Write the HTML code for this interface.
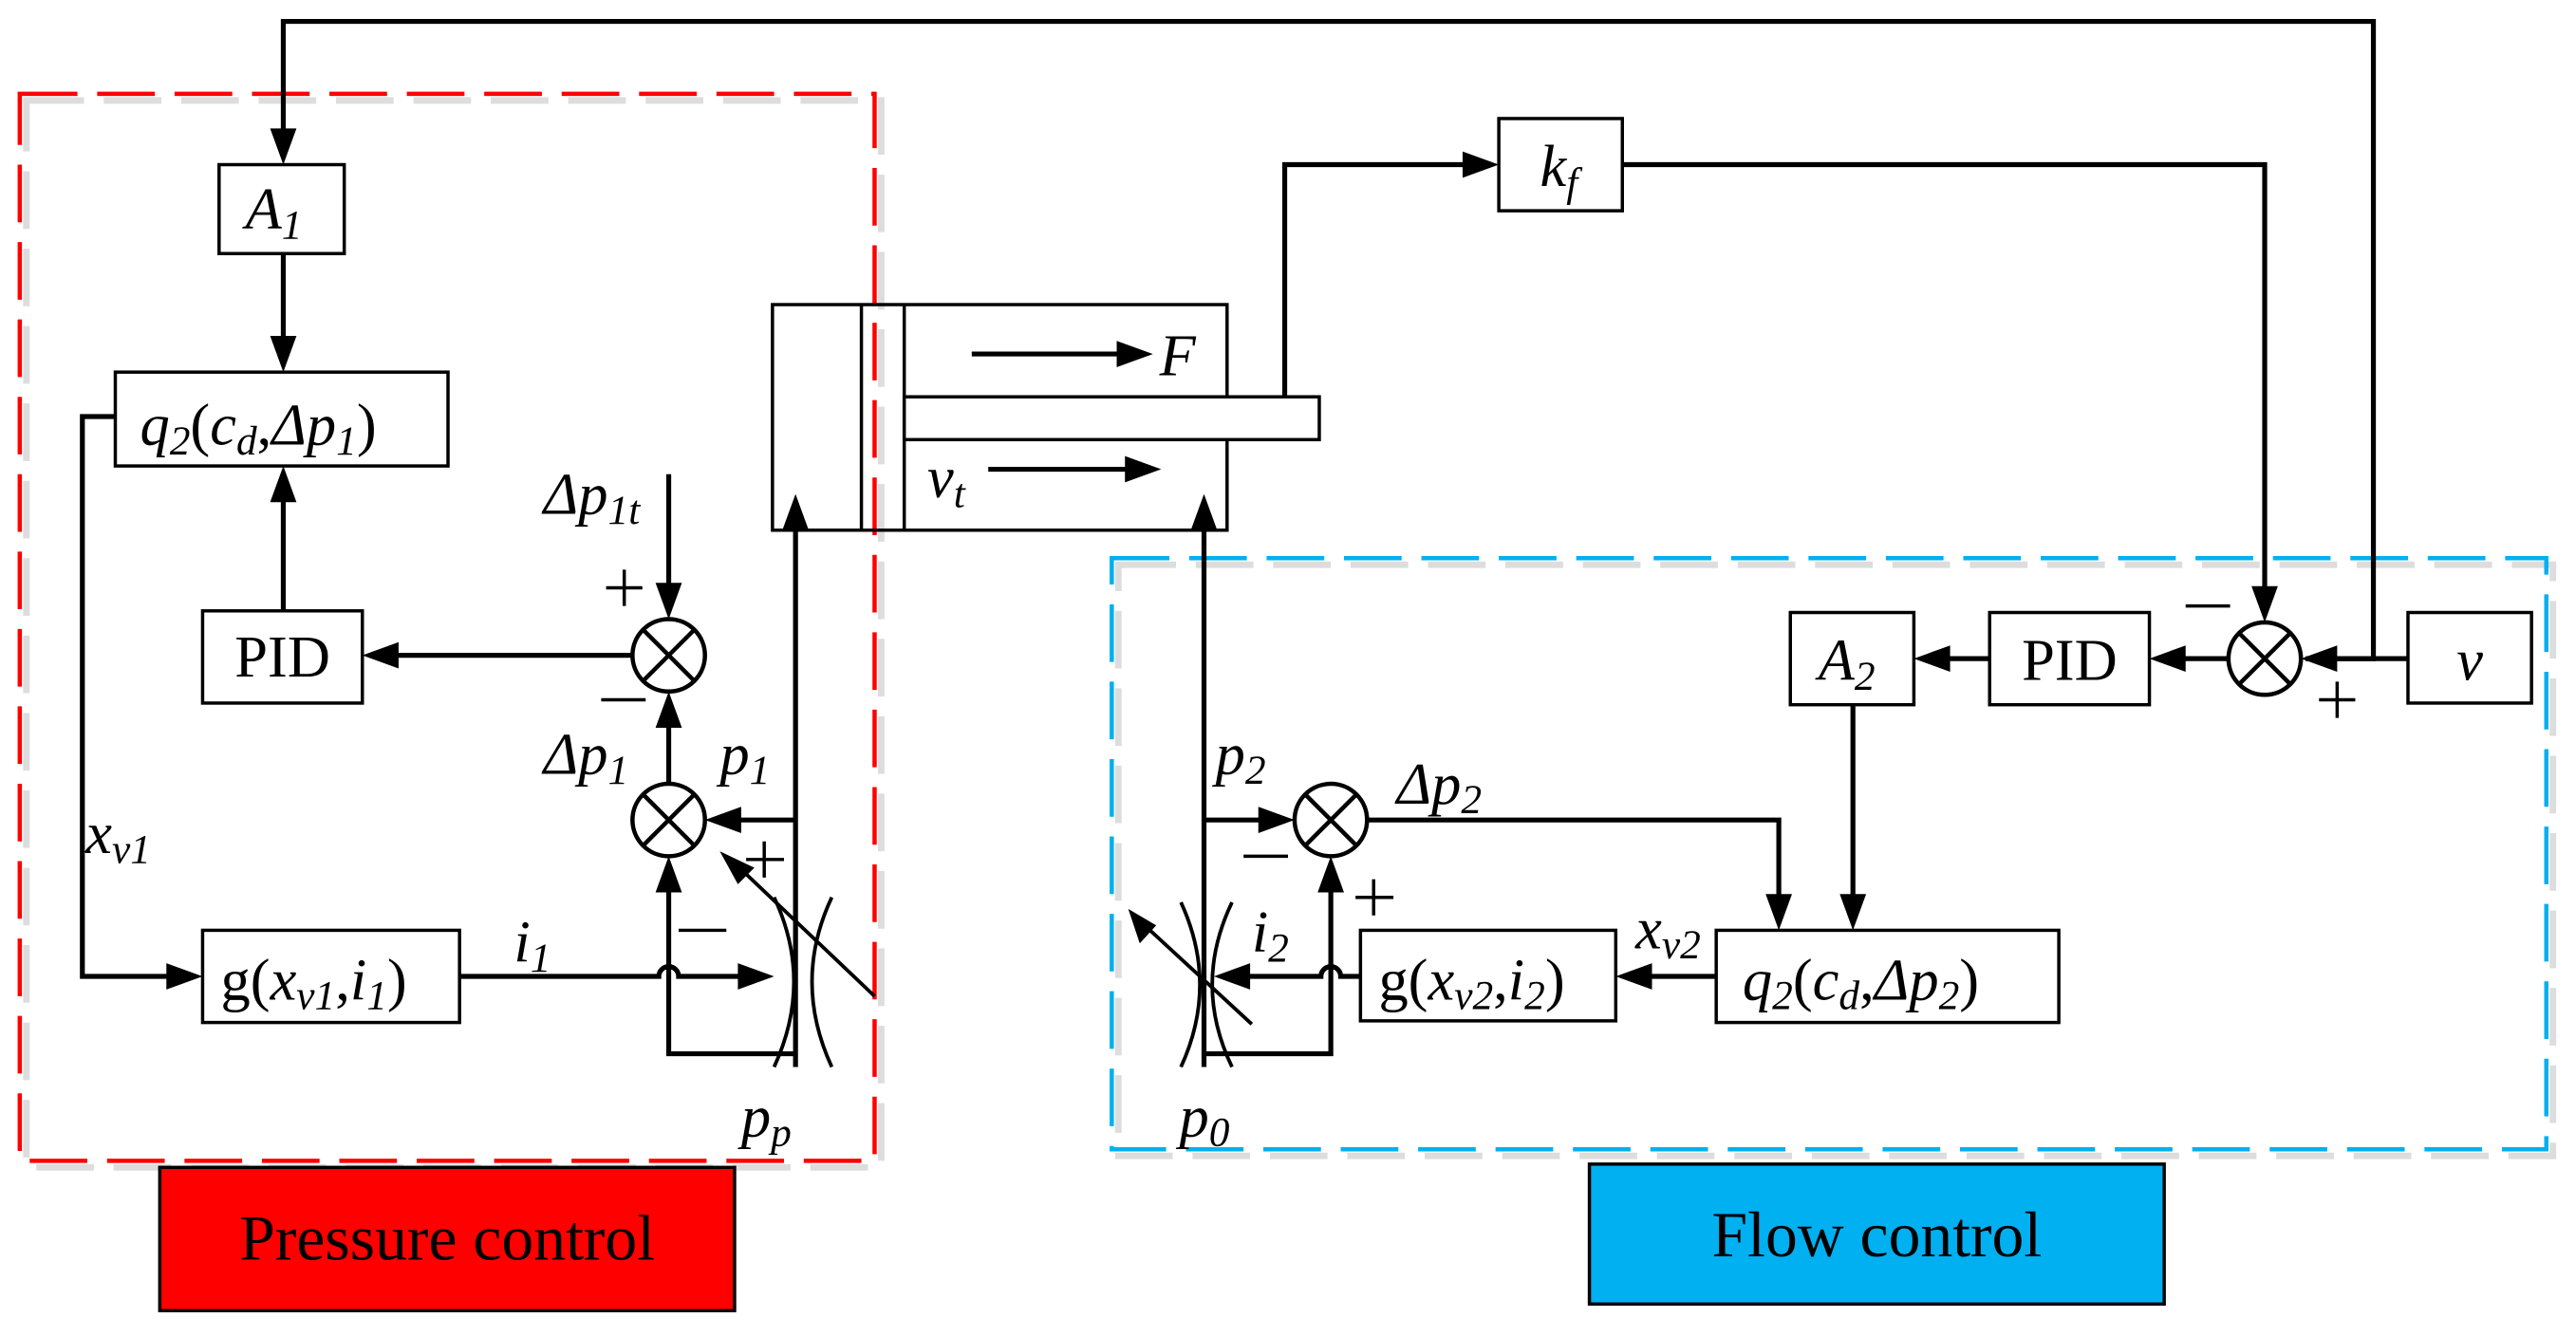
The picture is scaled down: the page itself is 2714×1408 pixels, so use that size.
<!DOCTYPE html>
<html><head><meta charset="utf-8"><style>
html,body{margin:0;padding:0;background:#fff;}
svg{display:block}
text{font-family:"Liberation Serif",serif;fill:#000}
.v{font-style:italic;font-size:36px}
.s{font-size:25px}
</style></head><body>
<svg width="2714" height="1408" viewBox="0 0 1564 811.4" xmlns="http://www.w3.org/2000/svg">
<g fill="none" stroke="#000" stroke-width="3">
<!-- shadows -->
<rect x="16" y="61" width="519" height="648" stroke="#ddd" stroke-width="4" stroke-dasharray="35 12"/>
<rect x="679" y="343" width="871" height="359" stroke="#ddd" stroke-width="4" stroke-dasharray="35 12"/>
<rect x="12" y="57" width="519" height="648" stroke="#f00" stroke-width="2.6" stroke-dasharray="35 12"/>
<rect x="675" y="339" width="871" height="359" stroke="#00b0f0" stroke-width="2.6" stroke-dasharray="35 12"/>

<!-- top loop -->
<polyline points="172,80 172,13 1441,13 1441,400 1400,400"/>
<line x1="1462" y1="400" x2="1400" y2="400"/>
<!-- boxes -->
<rect x="133" y="100" width="76" height="54" stroke-width="2"/>
<rect x="70" y="226" width="202" height="57" stroke-width="2"/>
<rect x="123" y="371" width="97" height="56" stroke-width="2"/>
<rect x="123" y="565" width="156" height="56" stroke-width="2"/>
<rect x="910" y="72" width="75" height="56" stroke-width="2"/>
<rect x="1462" y="372" width="75" height="55" stroke-width="2"/>
<rect x="1208" y="372" width="97" height="56" stroke-width="2"/>
<rect x="1087" y="372" width="75" height="56" stroke-width="2"/>
<rect x="1042" y="565" width="208" height="56" stroke-width="2"/>
<rect x="826" y="565" width="155" height="55" stroke-width="2"/>
<!-- cylinder -->
<rect x="469" y="185" width="276" height="137" stroke-width="2"/>
<line x1="523" y1="185" x2="523" y2="322" stroke-width="2"/>
<line x1="549" y1="185" x2="549" y2="322" stroke-width="2"/>
<rect x="549" y="241" width="252" height="26" stroke-width="2" fill="#fff"/>
<line x1="590" y1="215" x2="680" y2="215"/>
<line x1="600" y1="285" x2="685" y2="285"/>
<!-- summing circles -->
<g stroke-width="2.6">
<circle cx="406" cy="398" r="22"/><path d="M390.4,382.4L421.6,413.6M421.6,382.4L390.4,413.6"/>
<circle cx="406" cy="498" r="22"/><path d="M390.4,482.4L421.6,513.6M421.6,482.4L390.4,513.6"/>
<circle cx="808" cy="498" r="22"/><path d="M792.4,482.4L823.6,513.6M823.6,482.4L792.4,513.6"/>
<circle cx="1375" cy="400" r="22"/><path d="M1359.4,384.4L1390.6,415.6M1390.6,384.4L1359.4,415.6"/>
</g>
<!-- plus / minus signs -->
<g stroke-width="2">
<path d="M368,357 H390 M379,346 V368"/>
<path d="M365,425 H392"/>
<path d="M453,522 H476 M464,511 V533"/>
<path d="M412,565 H441"/>
<path d="M1327,368 H1354"/>
<path d="M1408,425 H1430 M1419,414 V436"/>
<path d="M755,520 H782"/>
<path d="M823,545 H846 M834,534 V556"/>
</g>
<!-- left wiring -->
<line x1="172" y1="154" x2="172" y2="206"/>
<line x1="172" y1="371" x2="172" y2="303"/>
<line x1="384" y1="398" x2="240" y2="398"/>
<line x1="406" y1="288" x2="406" y2="356"/>
<line x1="406" y1="476" x2="406" y2="440"/>
<line x1="483" y1="498" x2="448" y2="498"/>
<polyline points="483,318 483,648"/>
<polyline points="406,540 406,640 483,640"/>
<polyline points="70,253 50,253 50,593 103,593"/>
<path d="M279,593 H400 a6,6 0 0 1 12,0 H455"/>
<path d="M470,545 Q494,596 470,648" stroke-width="2.2"/>
<path d="M505,545 Q481,596 505,648" stroke-width="2.2"/>
<line x1="531" y1="605" x2="450" y2="528" stroke-width="2.2"/>
<!-- right wiring -->
<polyline points="780,241 780,100 890,100"/>
<polyline points="985,100 1375,100 1375,358"/>
<line x1="1353" y1="400" x2="1325" y2="400"/>
<line x1="1208" y1="400" x2="1182" y2="400"/>
<line x1="1125" y1="428" x2="1125" y2="545"/>
<polyline points="830,498 1080,498 1080,545"/>
<polyline points="731,318 731,648"/>
<line x1="731" y1="498" x2="766" y2="498"/>
<line x1="1042" y1="593" x2="1001" y2="593"/>
<path d="M826,593 H814 a6,6 0 0 0 -12,0 H757"/>
<polyline points="808,540 808,640 731,640"/>
<path d="M717,548 Q740,598 717,648" stroke-width="2.2"/>
<path d="M748,548 Q724,598 748,648" stroke-width="2.2"/>
<line x1="760" y1="622" x2="695" y2="562" stroke-width="2.2"/>
</g>
<!-- arrowheads -->
<g fill="#000">
<polygon points="172,100 164,78 180,78"/>
<polygon points="172,226 164,204 180,204"/>
<polygon points="172,283 164,305 180,305"/>
<polygon points="220,398 242,390 242,406"/>
<polygon points="406,376 398,354 414,354"/>
<polygon points="406,420 398,442 414,442"/>
<polygon points="428,498 450,490 450,506"/>
<polygon points="406,520 398,542 414,542"/>
<polygon points="483,300 475,322 491,322"/>
<polygon points="123,593 101,585 101,601"/>
<polygon points="470,593 448,585 448,601"/>
<polygon points="437,517 448,537 458,527"/>
<polygon points="700,215 678,207 678,223"/>
<polygon points="705,285 683,277 683,293"/>
<polygon points="910,100 888,92 888,108"/>
<polygon points="1375,378 1367,356 1383,356"/>
<polygon points="1397,400 1419,392 1419,408"/>
<polygon points="1305,400 1327,392 1327,408"/>
<polygon points="1162,400 1184,392 1184,408"/>
<polygon points="1125,565 1117,543 1133,543"/>
<polygon points="1080,565 1072,543 1088,543"/>
<polygon points="786,498 764,490 764,506"/>
<polygon points="981,593 1003,585 1003,601"/>
<polygon points="737,593 759,585 759,601"/>
<polygon points="808,520 800,542 816,542"/>
<polygon points="731,300 723,322 739,322"/>
<polygon points="685,552 692,573 702,562"/>
</g>
<!-- labels -->
<text x="149" y="139" class="v">A<tspan class="s" dy="6">1</tspan></text>
<text x="85" y="270" class="v">q<tspan class="s" dy="6">2</tspan><tspan dy="-6" font-style="normal">(</tspan>c<tspan class="s" dy="6">d</tspan><tspan dy="-6" font-style="normal">,</tspan>Δp<tspan class="s" dy="6">1</tspan><tspan dy="-6" font-style="normal">)</tspan></text>
<text x="171.5" y="411" font-size="36" text-anchor="middle">PID</text>
<text x="134" y="607" font-size="36">g(<tspan font-style="italic">x</tspan><tspan class="s" font-style="italic" dy="6">v1</tspan><tspan dy="-6">,</tspan><tspan font-style="italic">i</tspan><tspan class="s" font-style="italic" dy="6">1</tspan><tspan dy="-6">)</tspan></text>
<text x="330" y="312" class="v">Δp<tspan class="s" dy="6">1t</tspan></text>
<text x="330" y="470" class="v">Δp<tspan class="s" dy="6">1</tspan></text>
<text x="437" y="470" class="v">p<tspan class="s" dy="6">1</tspan></text>
<text x="52" y="518" class="v" font-size="32">x<tspan class="s" dy="6">v1</tspan></text>
<text x="312" y="584" class="v">i<tspan class="s" dy="6">1</tspan></text>
<text x="450" y="690" class="v">p<tspan class="s" dy="6">p</tspan></text>
<text x="704" y="228" class="v">F</text>
<text x="563" y="302" class="v">v<tspan class="s" dy="6">t</tspan></text>
<text x="935" y="113" class="v">k<tspan class="s" dy="6">f</tspan></text>
<text x="1499.5" y="413" class="v" text-anchor="middle">v</text>
<text x="1256.5" y="413" font-size="36" text-anchor="middle">PID</text>
<text x="1104" y="413" class="v">A<tspan class="s" dy="6">2</tspan></text>
<text x="1058" y="607" class="v">q<tspan class="s" dy="6">2</tspan><tspan dy="-6" font-style="normal">(</tspan>c<tspan class="s" dy="6">d</tspan><tspan dy="-6" font-style="normal">,</tspan>Δp<tspan class="s" dy="6">2</tspan><tspan dy="-6" font-style="normal">)</tspan></text>
<text x="837" y="607" font-size="36">g(<tspan font-style="italic">x</tspan><tspan class="s" font-style="italic" dy="6">v2</tspan><tspan dy="-6">,</tspan><tspan font-style="italic">i</tspan><tspan class="s" font-style="italic" dy="6">2</tspan><tspan dy="-6">)</tspan></text>
<text x="848" y="488" class="v">Δp<tspan class="s" dy="6">2</tspan></text>
<text x="738" y="470" class="v">p<tspan class="s" dy="6">2</tspan></text>
<text x="993" y="576" class="v" font-size="32">x<tspan class="s" dy="6">v2</tspan></text>
<text x="760" y="578" class="v">i<tspan class="s" dy="6">2</tspan></text>
<text x="716" y="690" class="v">p<tspan class="s" dy="6">0</tspan></text>
<!-- legend boxes -->
<rect x="97" y="709" width="349" height="87" fill="#ff0000" stroke="#000" stroke-width="2"/>
<text x="271.5" y="765" font-size="39" text-anchor="middle">Pressure control</text>
<rect x="965" y="707" width="349" height="85" fill="#00b0f0" stroke="#000" stroke-width="2"/>
<text x="1139.5" y="763" font-size="39" text-anchor="middle">Flow control</text>
</svg>
</body></html>
